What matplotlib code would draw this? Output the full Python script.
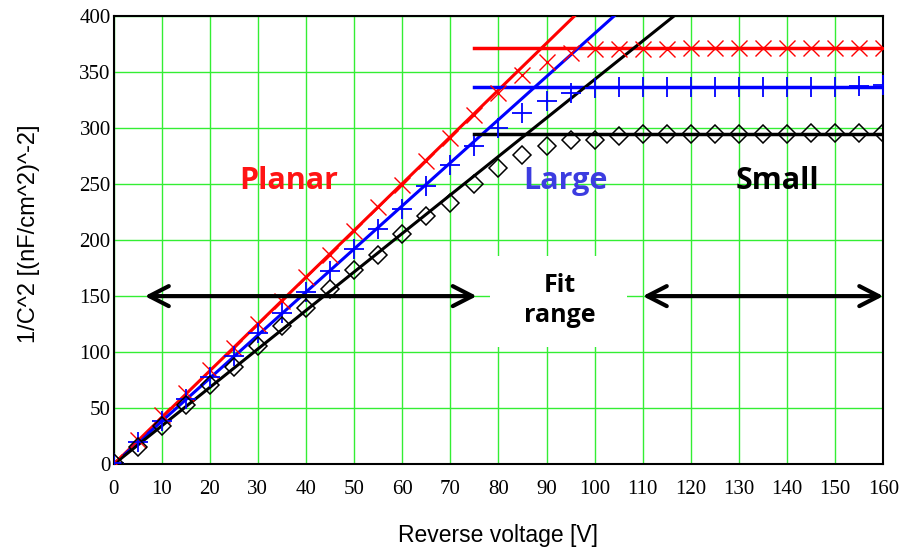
import numpy as np
import matplotlib.pyplot as plt
from matplotlib.patches import Rectangle

# reverse bias voltage points [V]
volts = [0, 5, 10, 15, 20, 25, 30, 35, 40, 45, 50, 55, 60, 65, 70, 75, 80,
         85, 90, 95, 100, 105, 110, 115, 120, 125, 130, 135, 140, 145, 150, 155, 160]

# measured 1/C^2 [(nF/cm^2)^-2]
planar = [2, 22, 44, 64, 84, 104, 125, 146, 167, 187, 208, 229, 249, 270, 291, 311, 331,
          347, 359, 367, 370, 370, 370, 370, 371, 371, 371, 371, 371, 371, 371, 371, 371]
large = [1, 20, 39, 58, 78, 97, 117, 135, 154, 172, 192, 210, 228, 248, 267, 284, 300,
         313, 324, 331, 335, 336, 336, 336, 336, 336, 336, 336, 336, 336, 336, 337, 338]
small = [1, 16, 34, 53, 71, 87, 106, 123, 139, 156, 173, 187, 205, 221, 233, 250, 264,
         276, 284, 289, 289, 293, 294, 294, 294, 294, 294, 294, 294, 295, 295, 295, 295]

# linear fits through the origin (slope) and plateau levels
slopes = {'planar': 4.17, 'large': 3.84, 'small': 3.43}
plateaus = {'planar': 371, 'large': 336, 'small': 294}
fit_x = [0, 160]
plateau_x = [75, 160]

fit_range_left = [6.5, 75.5]
fit_range_right = [110, 160]
arrow_y = 150

GREEN = '#33ee33'

fig = plt.figure(figsize=(9.11, 5.48), dpi=100)
ax = fig.add_axes([0.1246, 0.1524, 0.8450, 0.8193])

series = [('planar', planar, 'red', 'x', 12, 1.0),
          ('large', large, 'blue', '+', 14, 1.3),
          ('small', small, 'black', 'D', 9, 1.1)]

for name, vals, col, mk, ms, mew in series:
    fx = np.array(fit_x, dtype=float)
    ax.plot(fx, slopes[name] * fx, color=col, lw=2.2, zorder=3)
    ax.plot(plateau_x, [plateaus[name]] * 2, color=col, lw=2.5, zorder=3)
    ax.plot(volts, vals, linestyle='none', marker=mk, ms=ms, mew=mew,
            mfc='none', mec=col, color=col, zorder=4)

# white patch behind the "Fit range" label
ax.add_patch(Rectangle((78.3, 104.7), 28.4, 81.3, facecolor='white',
                       edgecolor='none', zorder=1))

for xs in (fit_range_left, fit_range_right):
    ax.annotate('', xy=(xs[0], arrow_y), xytext=(xs[1], arrow_y),
                arrowprops=dict(arrowstyle='<->, head_length=0.7, head_width=0.36',
                                lw=3, color='black', mutation_scale=20,
                                shrinkA=0, shrinkB=0), zorder=5)

lbl = dict(family='Open Sans', fontweight='bold', ha='center', va='center', zorder=6)
ax.text(36.5, 253, 'Planar', color='#ff1414', fontsize=22, **lbl)
ax.text(94, 253, 'Large', color='#3c3ce0', fontsize=22, **lbl)
ax.text(138, 253, 'Small', color='black', fontsize=22, **lbl)
ax.text(92.8, 146, 'Fit\nrange', color='black', fontsize=18, linespacing=1.3, **lbl)

ax.set_xlim(0, 160)
ax.set_ylim(0, 400)
ax.set_xticks(np.arange(0, 161, 10))
ax.set_yticks(np.arange(0, 401, 50))
ax.grid(True, color=GREEN, lw=1.0)
ax.set_axisbelow(True)
for sp in ax.spines.values():
    sp.set_linewidth(1.5)
    sp.set_color('black')

ax.tick_params(axis='both', length=0, labelsize=15)
ax.tick_params(axis='x', pad=11)
ax.tick_params(axis='y', pad=2)
for t in ax.get_xticklabels() + ax.get_yticklabels():
    t.set_family('Liberation Serif')

ax.set_xlabel('Reverse voltage [V]', family='Liberation Sans', fontsize=16.5)
ax.set_ylabel('1/C^2 [(nF/cm^2)^-2]', family='Liberation Sans', fontsize=17)
ax.xaxis.set_label_coords(0.5, -0.133)
ax.yaxis.set_label_coords(-0.096, 0.515)

fig.savefig('out.png', dpi=100)
